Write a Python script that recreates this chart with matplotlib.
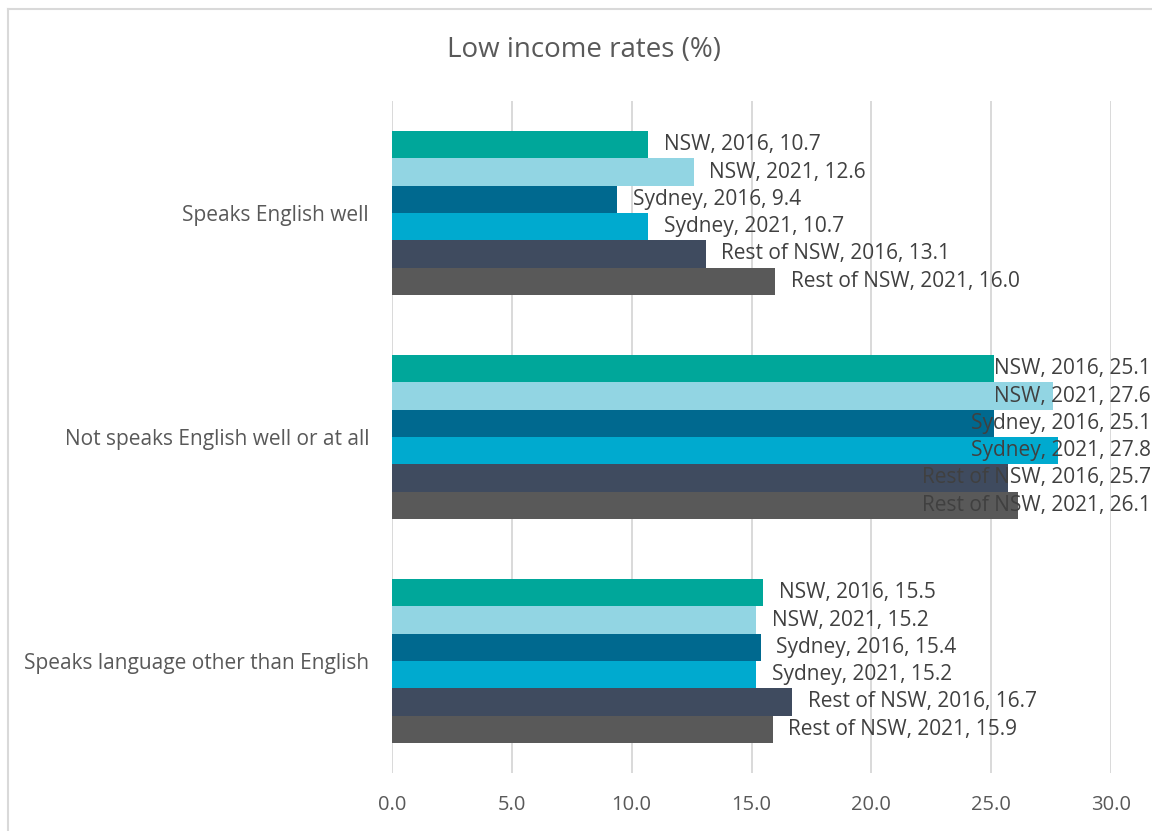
import matplotlib
matplotlib.use("Agg")
import matplotlib.pyplot as plt
from matplotlib.lines import Line2D
import numpy as np

categories = ["Speaks English well", "Not speaks English well or at all",
              "Speaks language other than English"]
series_names = ["NSW, 2016", "NSW, 2021", "Sydney, 2016", "Sydney, 2021",
                "Rest of NSW, 2016", "Rest of NSW, 2021"]
values = {
    "NSW, 2016":         [10.7, 25.1, 15.5],
    "NSW, 2021":         [12.6, 27.6, 15.2],
    "Sydney, 2016":      [9.4, 25.1, 15.4],
    "Sydney, 2021":      [10.7, 27.8, 15.2],
    "Rest of NSW, 2016": [13.1, 25.7, 16.7],
    "Rest of NSW, 2021": [16.0, 26.1, 15.9],
}
colors = ["#00A79A", "#92D5E3", "#00698F", "#00AACF", "#3F4B5F", "#595959"]
xticks = [0, 5, 10, 15, 20, 25, 30]
title = "Low income rates (%)"

plt.rcParams['font.family'] = ['Open Sans', 'DejaVu Sans']

W, H = 1152, 831
fig = plt.figure(figsize=(W / 100, H / 100), dpi=100)
ax = fig.add_axes([392 / W, 1 - 773 / H, (1111 - 392) / W, (773 - 101) / H])

n = len(series_names)
bar_h = 0.1219
y_cat = np.arange(len(categories))
for i, name in enumerate(series_names):
    ypos = y_cat - (n * bar_h) / 2 + bar_h * (i + 0.5)
    ax.barh(ypos, values[name], height=bar_h, color=colors[i], zorder=2,
            edgecolor='none')

ax.set_xlim(0, 30)
ax.set_ylim(len(categories) - 0.5, -0.5)
ax.set_xticks(xticks)
ax.set_xticklabels([f"{t:.1f}" for t in xticks], fontsize=14.5, color="#595959")
ax.set_yticks(y_cat)
ax.set_yticklabels(categories, fontsize=15, color="#595959")
ax.tick_params(axis='x', length=0, pad=16)
ax.tick_params(axis='y', length=0, pad=16.5)
for s in ax.spines.values():
    s.set_visible(False)
ax.grid(axis='x', color="#D9D9D9", lw=1.4, zorder=0)
ax.set_axisbelow(True)

fig.text(584 / W, 1 - 50 / H, title, ha='center', va='center',
         fontsize=20, color="#595959")

# data labels
fig.canvas.draw()
renderer = fig.canvas.get_renderer()
limit_px = 1151
lab_fs = 15
for i, name in enumerate(series_names):
    ypos = y_cat - (n * bar_h) / 2 + bar_h * (i + 0.5)
    for j, v in enumerate(values[name]):
        label = f"{name}, {v:.1f}"
        t = ax.annotate(label, xy=(v, ypos[j]), xytext=(11, 0),
                        textcoords='offset points', ha='left', va='center',
                        fontsize=lab_fs, color="#404040", zorder=5,
                        annotation_clip=False)
        bb = t.get_window_extent(renderer)
        if bb.x1 > limit_px:
            t.remove()
            xf = limit_px / W
            yd = ax.transData.transform((0, ypos[j]))[1]
            fig.text(xf, yd / H, label, ha='right', va='center',
                     fontsize=lab_fs, color="#404040", zorder=5)

# chart border (left & top visible)
fig.add_artist(Line2D([8 / W, 8 / W], [0, 1 - 9 / H], transform=fig.transFigure,
                      color="#D9D9D9", lw=1.5))
fig.add_artist(Line2D([8 / W, 1], [1 - 9 / H, 1 - 9 / H], transform=fig.transFigure,
                      color="#D9D9D9", lw=1.5))

fig.savefig("out.png", dpi=100)
